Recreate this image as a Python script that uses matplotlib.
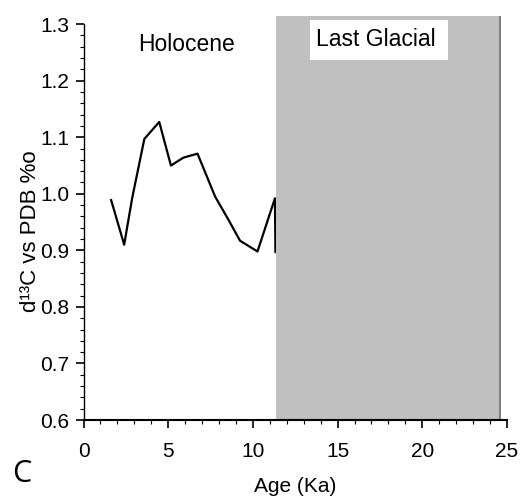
import matplotlib
matplotlib.use('Agg')
import matplotlib.pyplot as plt
from matplotlib.patches import Rectangle
from matplotlib.ticker import MultipleLocator, FormatStrFormatter

# carbon isotope record, ages in ka
age = [1.63, 2.40, 2.87, 3.59, 4.47, 5.16, 5.90, 6.73, 7.77, 8.52, 9.24, 10.27, 11.30, 11.33]
d13c = [0.989, 0.910, 0.992, 1.097, 1.127, 1.050, 1.064, 1.071, 0.995, 0.956, 0.917, 0.898, 0.992, 0.897]

glacial_start = 11.35
glacial_end = 24.6

plt.rcParams['font.family'] = ['Liberation Sans', 'DejaVu Sans']

fig = plt.figure(figsize=(5.32, 5.03), dpi=100)
ax = fig.add_axes([0.157, 0.165, 0.796, 0.787])

ax.plot(age, d13c, color='black', linewidth=1.6, zorder=2)

# shaded glacial period, runs a bit above the top of the axis
rect = Rectangle((glacial_start, 0.6), glacial_end - glacial_start, 0.714,
                 facecolor='#c0c0c0', edgecolor='none', zorder=3, clip_on=False)
ax.add_patch(rect)
ax.plot([glacial_end, glacial_end], [0.6, 1.314], color='#808080', linewidth=1.5,
        zorder=4, clip_on=False, solid_capstyle='butt')
ax.plot([glacial_start, glacial_end], [0.6, 0.6], color='#808080', linewidth=1.5,
        zorder=4, clip_on=False, solid_capstyle='butt')

# white label box inside the shaded area
ax.add_patch(Rectangle((13.37, 1.2364), 8.15, 0.0707, facecolor='white',
                       edgecolor='none', zorder=5, clip_on=False))
ax.text(13.75, 1.2616, 'Last Glacial', fontsize=16.5, ha='left', va='baseline', zorder=6)
ax.text(3.25, 1.2528, 'Holocene', fontsize=16.5, ha='left', va='baseline')

ax.set_xlim(0, 25)
ax.set_ylim(0.6, 1.3)
ax.xaxis.set_major_locator(MultipleLocator(5))
ax.xaxis.set_minor_locator(MultipleLocator(1))
ax.yaxis.set_major_locator(MultipleLocator(0.1))
ax.yaxis.set_minor_locator(MultipleLocator(0.02))
ax.yaxis.set_major_formatter(FormatStrFormatter('%.1f'))

ax.spines['top'].set_visible(False)
ax.spines['right'].set_visible(False)
ax.spines['bottom'].set_linewidth(1.5)
ax.spines['left'].set_linewidth(1.0)
ax.spines['bottom'].set_zorder(6)

ax.tick_params(axis='both', which='major', direction='out', length=6, width=1.2, labelsize=15)
ax.tick_params(axis='both', which='minor', direction='out', length=3, width=0.8)
ax.tick_params(axis='x', which='major', pad=10)
ax.tick_params(axis='y', which='major', pad=4)

ax.set_xlabel('Age (Ka)', fontsize=15, labelpad=11)
ax.set_ylabel('d¹³C vs PDB %o', fontsize=16)
ax.yaxis.set_label_coords(-0.10, 0.477)

fig.text(0.022, 0.042, 'C', fontsize=22, family=['Open Sans', 'DejaVu Sans'],
         ha='left', va='baseline')

fig.savefig('out.png', dpi=100)
